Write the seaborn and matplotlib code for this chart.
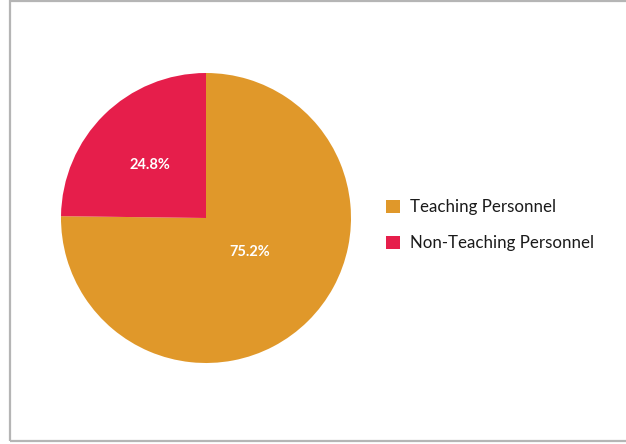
import matplotlib
matplotlib.use('Agg')
import matplotlib.pyplot as plt
import seaborn as sns
from matplotlib.patches import Rectangle

labels = ['Teaching Personnel', 'Non-Teaching Personnel']
shares = [75.2, 24.8]
colors = ['#E0982A', '#E61E4B']
pct_pos = [(0.30, -0.235), (-0.385, 0.365)]

sns.set_theme(style='white')
plt.rcParams['font.family'] = ['Lato', 'DejaVu Sans']

fig = plt.figure(figsize=(6.26, 4.44), dpi=100)
fig.patch.set_facecolor('white')

# outer frame (left, top, bottom; right side runs off the picture)
fig.patches.append(Rectangle((9.5 / 626, 3 / 444), 1.2, 440 / 444, transform=fig.transFigure,
                             fill=False, edgecolor='#b5b5b5', linewidth=1.6))

ax = fig.add_axes([61 / 626, 81 / 444, 290 / 626, 290 / 444])
wedges, texts, autotexts = ax.pie(shares, colors=sns.color_palette(colors), startangle=90,
                                  counterclock=False, autopct='%.1f%%',
                                  wedgeprops=dict(linewidth=0),
                                  textprops=dict(color='white', fontsize=10.5, fontweight='bold'))
for t, p in zip(autotexts, pct_pos):
    t.set_position(p)
ax.set_xlim(-1, 1)
ax.set_ylim(-1, 1)
ax.set_aspect('equal')

leg = fig.legend(wedges, labels, loc='upper left', bbox_to_anchor=(386 / 626, 1 - 199 / 444),
                 frameon=False, fontsize=12.2, handlelength=0.8, handleheight=0.8,
                 handletextpad=0.6, labelspacing=1.2, borderpad=0, borderaxespad=0)
for t in leg.get_texts():
    t.set_color('#1a1a1a')

fig.savefig('out.png', dpi=100)
